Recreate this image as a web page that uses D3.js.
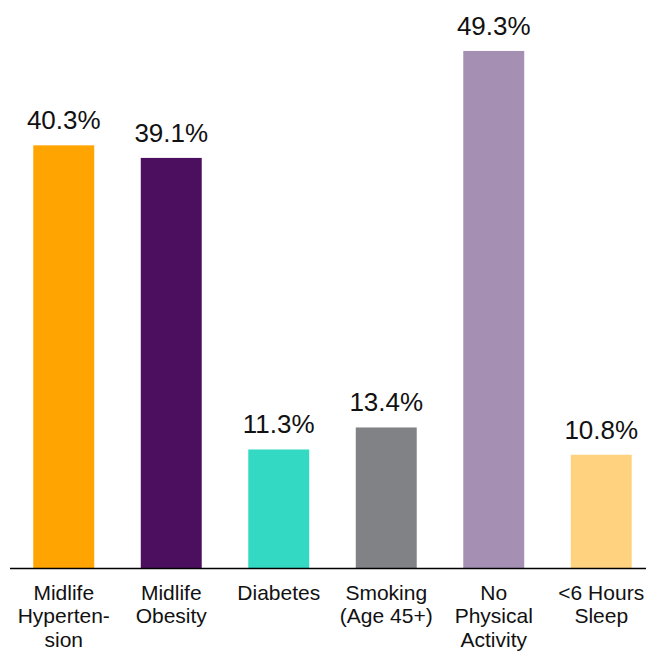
<!DOCTYPE html>
<html><head><meta charset="utf-8">
<script src="https://cdn.jsdelivr.net/npm/d3@7"></script>
<style>html,body{margin:0;padding:0;background:#fff;}svg{display:block;}</style>
</head><body>
<svg id="c" width="646" height="651"></svg>
<script>
const categories = [["Midlife","Hyperten-","sion"],["Midlife","Obesity"],["Diabetes"],["Smoking","(Age 45+)"],["No","Physical","Activity"],["<6 Hours","Sleep"]];
const values = [40.3, 39.1, 11.3, 13.4, 49.3, 10.8];
const valueLabels = ["40.3%","39.1%","11.3%","13.4%","49.3%","10.8%"];
const colors = ["#FFA400","#4C0F5F","#33D9C3","#808285","#A590B4","#FFD280"];

const svg = d3.select("#c");
const base = 568;
const x = d3.scaleBand().domain(d3.range(values.length)).range([10, 655]).paddingInner(0.433).paddingOuter(0.2165);
const y = d3.scaleLinear().domain([0, 50]).range([base, base - 524.4]);

svg.selectAll("rect.bar").data(values).enter().append("rect")
  .attr("class","bar")
  .attr("x",(d,i)=>x(i)).attr("width",x.bandwidth())
  .attr("y",d=>y(d)).attr("height",d=>base-y(d))
  .attr("fill",(d,i)=>colors[i]);

svg.append("line").attr("x1",10).attr("x2",646).attr("y1",base+0.5).attr("y2",base+0.5)
  .attr("stroke","#000").attr("stroke-width",1.5);

svg.selectAll("text.val").data(values).enter().append("text")
  .attr("class","val")
  .attr("x",(d,i)=>x(i)+x.bandwidth()/2)
  .attr("y",d=>y(d)-16)
  .attr("text-anchor","middle")
  .attr("font-family","Liberation Sans, Arial, sans-serif")
  .attr("font-size",26).attr("fill","#111")
  .text((d,i)=>valueLabels[i]);

const cat = svg.selectAll("text.cat").data(categories).enter().append("text")
  .attr("class","cat")
  .attr("text-anchor","middle")
  .attr("font-family","Liberation Sans, Arial, sans-serif")
  .attr("font-size",21).attr("fill","#111");
cat.each(function(lines,i){
  const t = d3.select(this);
  lines.forEach((l,j)=>{
    t.append("tspan").attr("x",x(i)+x.bandwidth()/2).attr("y",599.5+j*23.5).text(l);
  });
});
</script>
</body></html>
